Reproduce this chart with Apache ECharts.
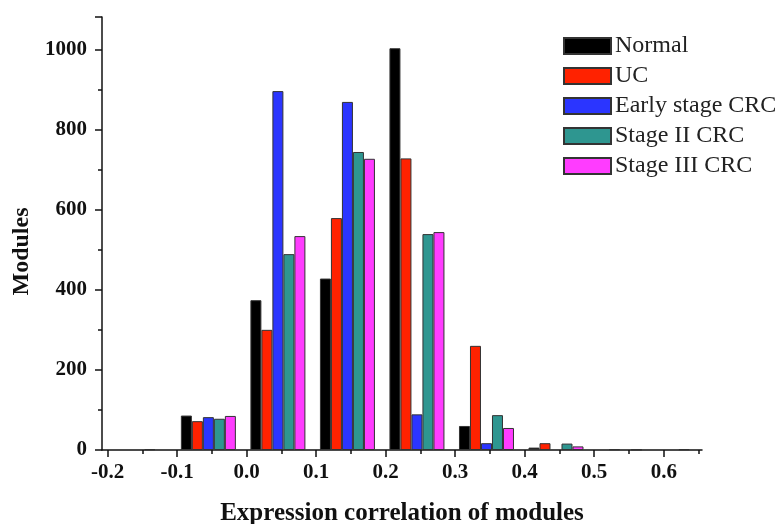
<!DOCTYPE html>
<html><head><meta charset="utf-8">
<script src="https://cdn.jsdelivr.net/npm/echarts@6/dist/echarts.min.js"></script>
<style>html,body{margin:0;padding:0;background:#fff}#c{width:779px;height:524px}</style>
</head><body><div id="c"></div>
<script>
var bins = [-0.2, -0.1, 0.0, 0.1, 0.2, 0.3, 0.4, 0.5, 0.6];
var seriesNames = ['Normal', 'UC', 'Early stage CRC', 'Stage II CRC', 'Stage III CRC'];
var normal  = [0, 86, 374, 428, 1003, 60, 6, 0, 0];
var uc      = [0, 72, 300, 579, 728, 260, 17, 2, 2];
var early   = [0, 82, 896, 869, 89, 17, 0, 0, 0];
var stage2  = [2, 78, 489, 744, 539, 87, 16, 1, 0];
var stage3  = [0, 85, 534, 727, 544, 55, 9, 0, 0];
var xTicks = [-0.2, -0.1, 0.0, 0.1, 0.2, 0.3, 0.4, 0.5, 0.6];
var xMinorTicks = [-0.15, -0.05, 0.05, 0.15, 0.25, 0.35, 0.45, 0.55, 0.65];
var colors = ['#000000', '#ff2200', '#2b35ff', '#2e9690', '#ff3cff'];
var allValues = [normal, uc, early, stage2, stage3];

var font = 'Liberation Serif, Times New Roman, serif';
var chart = echarts.init(document.getElementById('c'));
var series = seriesNames.map(function (n, i) {
  return {
    name: n, type: 'bar', barWidth: 11, barGap: '0%',
    data: bins.map(function (b, k) {
      var v = allValues[i][k];
      return [b + 0.045, v === 0 ? '-' : v];
    }),
    itemStyle: { color: colors[i], borderColor: '#333', borderWidth: 1 }
  };
});
chart.setOption({
  animation: false,
  grid: { left: 102, right: 77, top: 17, bottom: 74, containLabel: false, outerBoundsMode: 'none' },
  legend: {
    orient: 'vertical', left: 563, top: 34, padding: 0,
    itemWidth: 47, itemHeight: 16, itemGap: 6,
    icon: 'rect',
    textStyle: { fontFamily: font, fontSize: 24, lineHeight: 24, color: '#222', padding: [0, 0, 0, -1] },
    data: seriesNames
  },
  xAxis: [{
    type: 'value', min: -0.208, max: 0.655,
    name: 'Expression correlation of modules', nameLocation: 'middle', nameGap: 51,
    nameTextStyle: { fontFamily: font, fontSize: 25, fontWeight: 'bold', color: '#111' },
    axisLine: { show: true, onZero: false, lineStyle: { color: '#111', width: 1.5 } },
    axisTick: { show: true, length: 7, customValues: xTicks, lineStyle: { color: '#111', width: 1.5 } },
    axisLabel: { customValues: xTicks, fontFamily: font, fontSize: 21, fontWeight: 'bold', color: '#111', margin: 12,
      formatter: function (v) { return v.toFixed(1); } },
    splitLine: { show: false }
  }, {
    type: 'value', min: -0.208, max: 0.655, position: 'bottom',
    axisLine: { show: false, onZero: false },
    axisTick: { show: true, length: 4, customValues: xMinorTicks, lineStyle: { color: '#111', width: 1.5 } },
    axisLabel: { show: false },
    splitLine: { show: false }
  }],
  yAxis: {
    type: 'value', min: 0, max: 1081, interval: 200,
    name: 'Modules', nameLocation: 'middle', nameGap: 66,
    nameTextStyle: { fontFamily: font, fontSize: 24, fontWeight: 'bold', color: '#111', padding: [0, 36, 0, 0] },
    axisLine: { show: true, onZero: false, lineStyle: { color: '#111', width: 1.5 } },
    axisTick: { show: true, length: 7, lineStyle: { color: '#111', width: 1.5 } },
    minorTick: { show: true, splitNumber: 2, length: 4, lineStyle: { color: '#111', width: 1.5 } },
    axisLabel: { fontFamily: font, fontSize: 21, fontWeight: 'bold', color: '#111', margin: 15,
      showMaxLabel: false, formatter: function (v) { return String(v); } },
    splitLine: { show: false }
  },
  series: series
});
</script></body></html>
